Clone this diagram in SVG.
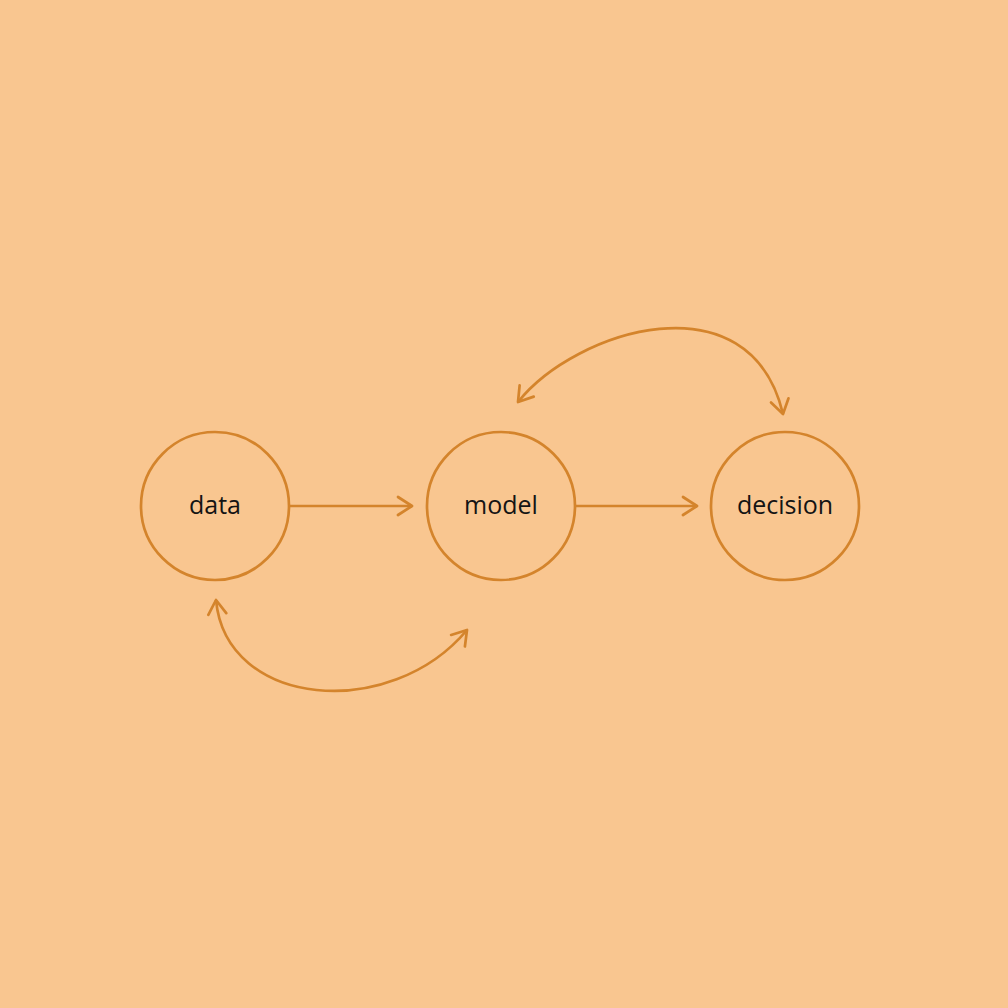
<svg xmlns="http://www.w3.org/2000/svg" width="1008" height="1008" viewBox="0 0 1008 1008">
<style>
.node{fill:none;stroke:#D4842C;stroke-width:2.7}
.lbl{font-family:"Open Sans","Noto Sans",sans-serif;font-size:25px;fill:#141414;text-anchor:middle}
.edge{fill:none;stroke:#D4842C;stroke-width:2.7}
</style>
<defs>
<marker id="ah" markerUnits="userSpaceOnUse" viewBox="-16 -11 18 22" refX="0" refY="0" markerWidth="18" markerHeight="22" orient="auto-start-reverse">
<path d="M -14 -9 L 0 0 L -14 9" fill="none" stroke="#D4842C" stroke-width="2.7" stroke-linecap="round" stroke-linejoin="round"/>
</marker>
</defs>
<rect width="1008" height="1008" fill="#F9C690"/>
<g id="connectors">
<path class="edge" d="M 289 506 L 412 506" marker-end="url(#ah)"/>
<path class="edge" d="M 575 506 L 697 506" marker-end="url(#ah)"/>
<path class="edge" d="M 518 402 C 575 330, 750 275, 783 414" marker-start="url(#ah)" marker-end="url(#ah)"/>
<path class="edge" d="M 216 600 C 226 708, 390 722, 467 630" marker-start="url(#ah)" marker-end="url(#ah)"/>
</g>
<g id="data"><circle class="node" cx="215" cy="506" r="74"/><text class="lbl" x="215" y="514">data</text></g>
<g id="model"><circle class="node" cx="501" cy="506" r="74"/><text class="lbl" x="501" y="514">model</text></g>
<g id="decision"><circle class="node" cx="785" cy="506" r="74"/><text class="lbl" x="785" y="514">decision</text></g>
</svg>
